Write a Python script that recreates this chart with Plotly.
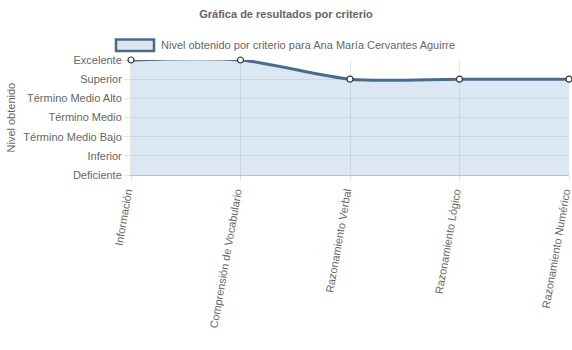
import plotly.graph_objects as go

categories = ["Información", "Comprensión de Vocabulario", "Razonamiento Verbal",
              "Razonamiento Lógico", "Razonamiento Numérico"]
level_labels = ["Deficiente", "Inferior", "Término Medio Bajo", "Término Medio",
                "Término Medio Alto", "Superior", "Excelente"]
values = [6, 6, 5, 5, 5]
series_name = "Nivel obtenido por criterio para Ana María Cervantes Aguirre"

line_color = "#4a6b89"
fill_color = "rgba(151,187,220,0.35)"
txt = "#666666"
font_family = "Liberation Sans, Arial, Helvetica, sans-serif"

W, H = 572, 350
L, R, T, B = 131, 3, 60, 175
PW, PH = W - L - R, H - T - B

def px_x(x):
    return (x - L) / PW

def px_y(y):
    return 1 - (y - T) / PH

fig = go.Figure()
fig.add_trace(go.Scatter(
    x=list(range(len(categories))), y=values,
    mode="lines+markers", fill="tozeroy", fillcolor=fill_color,
    line=dict(color=line_color, width=3, shape="spline", smoothing=0.8),
    marker=dict(size=6, color="white", line=dict(color="#333333", width=1.2)),
    cliponaxis=False, showlegend=False, name=series_name,
))

shapes = [dict(type="rect", xref="paper", yref="paper",
               x0=px_x(116), x1=px_x(154), y0=px_y(51), y1=px_y(39.5),
               fillcolor="#dae7f2", line=dict(color=line_color, width=2.5), layer="above")]

fig.update_layout(
    width=W, height=H,
    margin=dict(l=L, r=R, t=T, b=B),
    paper_bgcolor="white", plot_bgcolor="white",
    font=dict(family=font_family, size=11, color=txt),
    showlegend=False,
    title=dict(text="<b>Gráfica de resultados por criterio</b>", x=0.5, xanchor="center",
               y=1 - 14 / H, yanchor="middle", font=dict(size=11, color=txt)),
    xaxis=dict(
        tickmode="array", tickvals=list(range(len(categories))), ticktext=categories,
        range=[0, len(categories) - 1], tickangle=-80,
        showgrid=True, gridcolor="rgba(0,0,0,0.1)", gridwidth=1,
        ticks="outside", ticklen=5, tickcolor="rgba(0,0,0,0.1)",
        showline=True, linecolor="rgba(0,0,0,0.25)", linewidth=1,
        zeroline=False, tickfont=dict(size=11, color=txt), automargin=False,
        ticklabeloverflow="allow", ticklabelshift=-4,
    ),
    yaxis=dict(
        tickmode="array", tickvals=list(range(len(level_labels))), ticktext=level_labels,
        range=[0, len(level_labels) - 1],
        showgrid=True, gridcolor="rgba(0,0,0,0.1)", gridwidth=1,
        ticks="outside", ticklen=6, tickcolor="rgba(0,0,0,0.1)",
        showline=True, linecolor="rgba(0,0,0,0.1)", linewidth=1,
        zeroline=False, tickfont=dict(size=11, color=txt), automargin=False,
        ticklabeloverflow="allow",
    ),
    shapes=shapes,
    annotations=[
        dict(text="Nivel obtenido", textangle=-90, xref="paper", yref="paper",
             x=px_x(10), y=0.5, xanchor="center", yanchor="middle",
             showarrow=False, font=dict(size=11, color=txt)),
        dict(text=series_name, xref="paper", yref="paper",
             x=px_x(159), y=px_y(45), xanchor="left", yanchor="middle",
             showarrow=False, font=dict(size=11, color=txt)),
    ],
)

fig.write_html("out.html")
